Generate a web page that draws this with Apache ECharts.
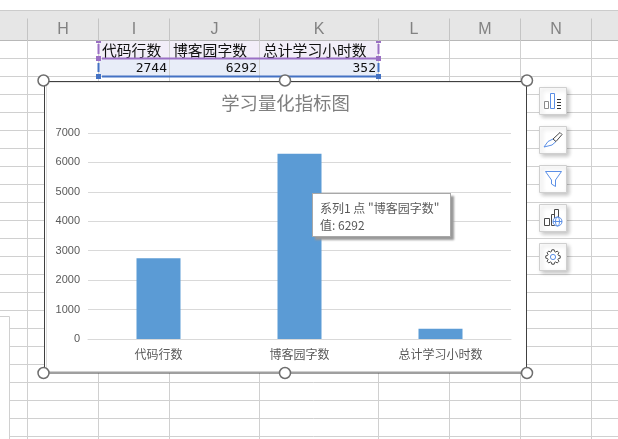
<!DOCTYPE html>
<html lang="zh">
<head>
<meta charset="utf-8">
<title>学习量化指标图</title>
<script src="https://cdn.jsdelivr.net/npm/echarts@6/dist/echarts.min.js"></script>
<style>
html,body{margin:0;padding:0;background:#fff;overflow:hidden}
#chart{width:618px;height:439px}
</style>
</head>
<body>
<div id="chart"></div>
<script>
// ---- data ----
const chartTitle = '学习量化指标图';
const seriesName = '系列1';
const categories = ['代码行数', '博客园字数', '总计学习小时数'];
const values = [2744, 6292, 352];
const yTicks = [0, 1000, 2000, 3000, 4000, 5000, 6000, 7000];
const columnLetters = ['H', 'I', 'J', 'K', 'L', 'M', 'N'];

// ---- sheet layout (decoration around the chart) ----
const colEdges = [27.5, 98.5, 169.5, 259.5, 378.5, 449.5, 520.5, 591.5];
const headerTop = 10.5, headerBottom = 40.5, rowH = 18;
const GRID = '#d0d0d0';
const els = [];
const line = (x1, y1, x2, y2, stroke, lineWidth, z) => els.push({
  type: 'line', silent: true, z: z,
  shape: {x1, y1, x2, y2}, style: {stroke, lineWidth}
});
const rect = (x, y, width, height, fill, z, extra) => els.push({
  type: 'rect', silent: true, z: z, shape: {x, y, width, height},
  style: Object.assign({fill}, extra || {})
});
const text = (x, y, t, font, fill, align, z) => els.push({
  type: 'text', silent: true, z: z, x, y,
  style: {text: t, font, fill, align: align, verticalAlign: 'middle'}
});
const poly = (pts, stroke, fill, lineWidth, z) => els.push({
  type: 'polygon', silent: true, z: z,
  shape: {points: pts}, style: {stroke, fill: fill, lineWidth}
});

const Z_BG = -30, Z_PANEL = -20, Z_TOP = 50;

// header band
rect(0, headerTop, 618, headerBottom - headerTop, '#e6e6e6', Z_BG);
line(0, headerTop, 618, headerTop, '#cccccc', 1, Z_BG);
line(0, headerBottom, 618, headerBottom, '#b8b8b8', 1, Z_BG);
colEdges.forEach(x => line(x, headerTop + 8, x, headerBottom, '#c4c4c4', 1, Z_BG));
columnLetters.forEach((c, i) =>
  text((colEdges[i] + colEdges[i + 1]) / 2, 29.5, c, '16px "Liberation Sans"', '#828282', 'center', Z_BG));

// table fills
rect(99, 41, 280, 17, '#f2eef8', Z_BG);
rect(99, 59, 280, 17, '#e8edf8', Z_BG);

// sheet grid
for (let y = headerBottom + rowH; y < 439; y += rowH) {
  line(y > 316 ? 9.5 : 0, y, 618, y, GRID, 1, Z_BG);
}
colEdges.forEach(x => line(x, headerBottom, x, 439, GRID, 1, Z_BG));
// frozen white box, bottom left
rect(0, 316, 9.5, 123, '#ffffff', Z_BG);
line(0, 316.5, 9.5, 316.5, GRID, 1, Z_BG);
line(9.5, 316.5, 9.5, 439, GRID, 1, Z_BG);

// table contents
const cellRights = [167, 257, 376];
const cellLefts = [102, 173, 263];
categories.forEach((c, i) => {
  text(cellLefts[i], 50.5, c, '14.8px "Noto Sans CJK SC"', '#111111', 'left', Z_BG);
  text(cellRights[i], 68.5, String(values[i]), '13px "DejaVu Sans Mono"', '#111111', 'right', Z_BG);
});

// selection marks
const PUR = '#9a6fc4', BLU = '#4472c4';
line(102, 58.5, 376, 58.5, PUR, 2, Z_BG);
line(102, 76.5, 376, 76.5, BLU, 2, Z_BG);
[98.5, 378.5].forEach(x => {
  line(x, 44, x, 54, PUR, 2, Z_BG);
  line(x, 63, x, 72, BLU, 2, Z_BG);
  rect(x - 2.5, 41, 5, 2, PUR, Z_BG);
  rect(x - 2.5, 56, 5, 5, PUR, Z_BG);
  rect(x - 2.5, 74, 5, 5, BLU, Z_BG);
});

// chart panel
rect(45, 81, 482, 292, '#ffffff', Z_PANEL);
line(46.5, 83, 46.5, 372, '#dcdcdc', 1, Z_PANEL);
line(46, 82.5, 526, 82.5, '#e4e4e4', 1, Z_PANEL);
line(46, 371.5, 526, 371.5, '#cfcfcf', 1, Z_PANEL);
els.push({type: 'rect', silent: true, z: Z_TOP,
  shape: {x: 44.5, y: 81.5, width: 482, height: 291.5},
  style: {fill: 'none', stroke: '#404040', lineWidth: 1}});

// handles
[[43.5, 80.5], [285, 80.5], [527, 80.5], [43.5, 373], [285, 373], [527, 373]].forEach(p =>
  els.push({type: 'circle', silent: true, z: Z_TOP + 1,
    shape: {cx: p[0], cy: p[1], r: 5.5},
    style: {fill: '#ffffff', stroke: '#6e6e6e', lineWidth: 1.5}}));

// side buttons
const btnTops = [87.5, 126.5, 165.5, 204.5, 243.5];
btnTops.forEach(y => els.push({type: 'rect', silent: true, z: Z_TOP,
  shape: {x: 539.5, y, width: 27, height: 27},
  style: {fill: '#ffffff', stroke: '#cfcfcf', lineWidth: 1,
    shadowColor: 'rgba(0,0,0,0.22)', shadowBlur: 4, shadowOffsetX: 2, shadowOffsetY: 2}}));
const Z_ICON = Z_TOP + 2, ICON_BLUE = '#5b8fe6', ICON_DARK = '#4a4a4a';
// icon 1: columns
els.push({type: 'rect', silent: true, z: Z_ICON, shape: {x: 544.5, y: 101.5, width: 4, height: 7}, style: {fill: 'none', stroke: '#8c8c8c', lineWidth: 1}});
els.push({type: 'rect', silent: true, z: Z_ICON, shape: {x: 550.5, y: 93.5, width: 4, height: 15}, style: {fill: 'none', stroke: ICON_BLUE, lineWidth: 1}});
[99.5, 102.5, 105.5, 108.5].forEach(y => line(557, y, 561, y, '#333333', 1, Z_ICON));
// icon 2: brush
poly([[544, 147], [548, 141.5], [553, 139], [556, 141.5], [552, 145]], ICON_BLUE, '#ffffff', 1, Z_ICON);
poly([[553, 139], [560, 132.5], [562, 134.5], [556, 141.5]], '#4a4a4a', '#ffffff', 1, Z_ICON);
// icon 3: funnel
poly([[545.5, 171.5], [561.5, 171.5], [555.5, 180], [555.5, 186.5], [551.5, 184], [551.5, 180]], ICON_BLUE, '#ffffff', 1, Z_ICON);
// icon 4: columns + globe
els.push({type: 'rect', silent: true, z: Z_ICON, shape: {x: 544.5, y: 218.5, width: 5, height: 7}, style: {fill: 'none', stroke: ICON_DARK, lineWidth: 1}});
els.push({type: 'rect', silent: true, z: Z_ICON, shape: {x: 551.5, y: 214.5, width: 3, height: 11}, style: {fill: 'none', stroke: ICON_DARK, lineWidth: 1}});
els.push({type: 'rect', silent: true, z: Z_ICON, shape: {x: 554.5, y: 209.5, width: 4, height: 12}, style: {fill: 'none', stroke: ICON_DARK, lineWidth: 1}});
els.push({type: 'circle', silent: true, z: Z_ICON + 1, shape: {cx: 557.5, cy: 221.5, r: 4.5}, style: {fill: '#ffffff', stroke: ICON_BLUE, lineWidth: 1}});
els.push({type: 'ellipse', silent: true, z: Z_ICON + 1, shape: {cx: 557.5, cy: 221.5, rx: 2, ry: 4.5}, style: {fill: 'none', stroke: ICON_BLUE, lineWidth: 1}});
line(553, 221.5, 562, 221.5, ICON_BLUE, 1, Z_ICON + 1);
// icon 5: gear
const gear = [];
for (let i = 0; i < 8; i++) {
  const a = i * Math.PI / 4;
  [-0.16, 0.16].forEach(d =>
    gear.push([553 + 7.3 * Math.cos(a + d), 257 + 7.3 * Math.sin(a + d)]));
  [0.3, Math.PI / 4 - 0.3].forEach(d =>
    gear.push([553 + 5.6 * Math.cos(a + d), 257 + 5.6 * Math.sin(a + d)]));
}
poly(gear, '#4a4a4a', '#ffffff', 1, Z_ICON);
els.push({type: 'circle', silent: true, z: Z_ICON + 1, shape: {cx: 553, cy: 257, r: 2.6}, style: {fill: '#ffffff', stroke: ICON_BLUE, lineWidth: 1}});

// ---- chart ----
const chart = echarts.init(document.getElementById('chart'), null, {renderer: 'canvas', width: 618, height: 439});
chart.setOption({
  animation: false,
  backgroundColor: 'transparent',
  title: {
    text: chartTitle,
    left: 280.5, top: 89, textAlign: 'center',
    textStyle: {fontFamily: '"Noto Sans CJK SC"', fontSize: 18.4, fontWeight: 'normal', color: '#7f7f7f'}
  },
  grid: {left: 88, right: 107, top: 133, height: 206, containLabel: false},
  xAxis: {
    type: 'category', data: categories,
    axisTick: {show: false},
    axisLine: {lineStyle: {color: '#d9d9d9', width: 1}},
    axisLabel: {fontFamily: '"Noto Sans CJK SC"', fontSize: 12, color: '#595959', margin: 9, interval: 0}
  },
  yAxis: {
    type: 'value', min: yTicks[0], max: yTicks[yTicks.length - 1], interval: yTicks[1] - yTicks[0],
    axisLine: {show: false}, axisTick: {show: false},
    axisLabel: {fontFamily: '"Liberation Sans"', fontSize: 11, color: '#595959', margin: 8, formatter: v => String(v)},
    splitLine: {lineStyle: {color: '#d9d9d9', width: 1}}
  },
  tooltip: {
    trigger: 'item', alwaysShowContent: true, transitionDuration: 0, showDelay: 0,
    position: [312, 193],
    confine: false,
    padding: [5, 7, 7, 7],
    backgroundColor: '#ffffff', borderColor: '#a8a8a8', borderWidth: 1, borderRadius: 0,
    textStyle: {fontFamily: '"Noto Sans CJK SC", "Liberation Sans"', fontSize: 12, color: '#595959', lineHeight: 15},
    extraCssText: 'box-shadow:3px 3px 2px #999;border-radius:0;width:123px;height:30px;line-height:17px;white-space:nowrap;box-sizing:content-box;',
    formatter: p => `${p.seriesName} 点 "${p.name}"<br>值: ${p.value}`
  },
  series: [{
    name: seriesName, type: 'bar', data: values, barWidth: 44,
    itemStyle: {color: '#5b9bd5'},
    emphasis: {disabled: true}
  }],
  graphic: {elements: els}
});
chart.dispatchAction({type: 'showTip', seriesIndex: 0, dataIndex: 1});
</script>
</body>
</html>
